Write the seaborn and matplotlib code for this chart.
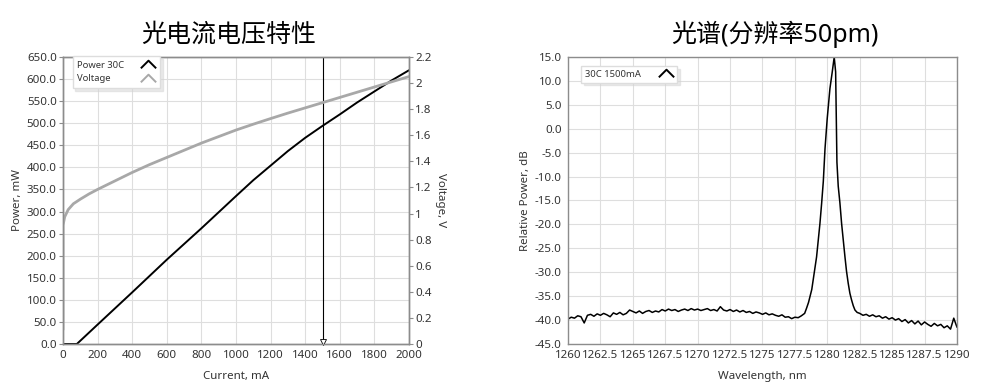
import numpy as np
import pandas as pd
import matplotlib
matplotlib.use("Agg")
import matplotlib.pyplot as plt
from matplotlib.lines import Line2D
from matplotlib.path import Path
from matplotlib.ticker import FormatStrFormatter
import seaborn as sns

# ---- LIV data ----
current_p = [0, 80, 200, 400, 600, 800, 1000, 1100, 1200, 1300, 1400, 1500, 1600, 1700,
             1800, 1900, 2000]
power_mw = [0, 0, 44, 117, 191, 262, 335, 371, 404, 437, 467, 494, 520, 547, 572, 597, 620]

current_v = [0, 0, 10, 30, 60, 100, 150, 200, 300, 400, 500, 600, 700, 800, 900, 1000,
             1100, 1200, 1300, 1400, 1500, 1600, 1700, 1800, 1900, 2000]
voltage_v = [0.11, 0.91, 0.975, 1.03, 1.075, 1.11, 1.15, 1.185, 1.25, 1.315, 1.375, 1.43,
             1.485, 1.54, 1.59, 1.64, 1.685, 1.728, 1.77, 1.81, 1.85, 1.89, 1.93, 1.97,
             2.01, 2.05]

cursor_current = 1500

# ---- spectrum data ----
wl_left = np.arange(1260.0, 1278.01, 0.25)
db_left = [-39.8, -39.4, -39.6, -39.1, -39.3, -40.6, -39.0, -38.8, -39.2, -38.7,
           -39.0, -38.6, -38.9, -39.3, -38.5, -38.8, -38.4, -38.9, -38.6, -37.9,
           -38.2, -38.5, -38.1, -38.6, -38.2, -38.0, -38.4, -38.1, -38.3, -37.8,
           -38.1, -37.7, -38.0, -37.8, -38.2, -37.9, -37.7, -38.0, -37.6, -37.9,
           -37.7, -38.0, -37.8, -37.6, -38.0, -37.8, -38.1, -37.2, -37.9, -38.1,
           -37.8, -38.2, -37.9, -38.3, -38.0, -38.4, -38.2, -38.6, -38.3, -38.5,
           -38.8, -38.5, -38.9, -38.7, -39.0, -39.2, -38.9, -39.4, -39.3, -39.7,
           -39.4, -39.5, -39.1]

wl_peak = [1278.25, 1278.40, 1278.55, 1278.66, 1278.80, 1278.91, 1279.05, 1279.17,
           1279.30, 1279.43, 1279.56, 1279.69, 1279.82, 1279.99, 1280.20, 1280.38,
           1280.53, 1280.64, 1280.69, 1280.74, 1280.84, 1280.97, 1281.10, 1281.23,
           1281.36, 1281.48, 1281.61, 1281.74, 1281.87, 1282.00, 1282.13, 1282.30]
db_peak = [-38.6, -37.5, -36.3, -35.1, -33.6, -31.6, -29.2, -26.8,
           -23.3, -19.8, -15.6, -11.0, -4.2, 2.1, 8.4, 11.9,
           15.0, 11.9, 2.1, -7.0, -12.0, -15.5, -19.8, -23.4,
           -26.8, -29.8, -32.3, -34.4, -35.8, -37.0, -37.9, -38.4]

wl_right = np.arange(1282.5, 1290.01, 0.25)
db_right = [-38.6, -39.0, -38.8, -39.2, -38.9, -39.3, -39.1, -39.6, -39.3, -39.8,
            -39.5, -40.0, -39.7, -40.3, -39.9, -40.6, -40.1, -40.8, -40.2, -41.0,
            -40.4, -40.9, -41.3, -40.7, -41.2, -40.9, -41.6, -41.2, -41.9, -39.6,
            -41.5]

spec = pd.DataFrame({
    "wl": np.concatenate([wl_left, wl_peak, wl_right]),
    "db": np.concatenate([db_left, db_peak, db_right]),
})
liv_p = pd.DataFrame({"I": current_p, "P": power_mw})
liv_v = pd.DataFrame({"I": current_v, "V": voltage_v})

sns.set_style("white")
plt.rcParams["font.family"] = ["Noto Sans", "Noto Sans CJK SC", "DejaVu Sans"]

spine_c = "#8c8c8c"
grid_c = "#dedede"
txt_c = "#333333"
volt_c = "#a8a8a8"

fig = plt.figure(figsize=(9.84, 3.9), dpi=100)
ax1 = fig.add_axes([63 / 984, 46 / 390, 346 / 984, 287 / 390])
ax3 = fig.add_axes([568 / 984, 46 / 390, 389 / 984, 287 / 390])
ax2 = ax1.twinx()

chevron = Path([(-1, -0.5), (0, 0.5), (1, -0.5)], [Path.MOVETO, Path.LINETO, Path.LINETO])


def style(ax):
    for s in ax.spines.values():
        s.set_color(spine_c)
        s.set_linewidth(1)
    ax.tick_params(direction="out", length=3, width=0.8, color=spine_c,
                   labelcolor=txt_c, labelsize=8.3, pad=1.5)


def left_align(leg, row_px):
    # text on the left, icon pushed to a fixed right column
    for col in leg._legend_handle_box.get_children():
        col.align = "left"
        for row in col.get_children():
            row.mode = "expand"
            row.width = row_px
    for t in leg.get_texts():
        t.set_color(txt_c)


# ---- left chart ----
sns.lineplot(data=liv_v, x="I", y="V", ax=ax2, color=volt_c, lw=2, sort=False,
             estimator=None)
sns.lineplot(data=liv_p, x="I", y="P", ax=ax1, color="black", lw=1.4, estimator=None)
ax1.axvline(cursor_current, color="black", lw=0.8)
ax1.plot([cursor_current], [5], marker="v", ms=4, mfc="white", mec="black", mew=0.6,
         clip_on=False, zorder=5)

ax1.set_xlim(0, 2000)
ax1.set_ylim(0, 650)
ax2.set_ylim(0, 2.2)
ax1.set_xticks(np.arange(0, 2001, 200))
ax1.set_yticks(np.arange(0, 651, 50))
ax2.set_yticks(np.arange(0, 2.21, 0.2))
ax1.yaxis.set_major_formatter(FormatStrFormatter("%.1f"))
ax2.yaxis.set_major_formatter(FormatStrFormatter("%g"))
ax1.grid(True, color=grid_c, lw=0.8)
ax1.set_axisbelow(True)
for a in (ax1, ax2):
    style(a)
ax1.set_xlabel("Current, mA", fontsize=8.3, color=txt_c, labelpad=7)
ax1.set_ylabel("Power, mW", fontsize=8.3, color=txt_c, labelpad=3)
ax2.set_ylabel("Voltage, V", fontsize=8.3, color=txt_c, rotation=270, labelpad=10)
ax1.set_title("光电流电压特性", fontsize=18, x=0.48, pad=11, color="black")

h1 = [Line2D([], [], color="black", marker=chevron, ms=11, mfc="none", mew=1.4, ls="none"),
      Line2D([], [], color=volt_c, marker=chevron, ms=11, mfc="none", mew=1.4, ls="none")]
leg = ax2.legend(h1, ["Power 30C", "Voltage"], loc="upper left",
                 bbox_to_anchor=(0.014, 1.02), markerfirst=False, fontsize=6.8,
                 frameon=True, fancybox=False, framealpha=1, edgecolor="#dddddd",
                 shadow={"color": "#d5d5d5"}, handletextpad=1.2, borderpad=0.5,
                 labelspacing=0.5, handlelength=1.5)
left_align(leg, 78)

# ---- right chart ----
sns.lineplot(data=spec, x="wl", y="db", ax=ax3, color="black", lw=1.1, estimator=None)
ax3.set_xlim(1260, 1290)
ax3.set_ylim(-45, 15)
ax3.set_xticks(np.arange(1260, 1290.1, 2.5))
ax3.set_yticks(np.arange(-45, 15.1, 5))
ax3.xaxis.set_major_formatter(FormatStrFormatter("%g"))
ax3.yaxis.set_major_formatter(FormatStrFormatter("%.1f"))
ax3.grid(True, color=grid_c, lw=0.8)
ax3.set_axisbelow(True)
style(ax3)
ax3.set_xlabel("Wavelength, nm", fontsize=8.3, color=txt_c, labelpad=7)
ax3.set_ylabel("Relative Power, dB", fontsize=8.3, color=txt_c, labelpad=3)
ax3.set_title("光谱(分辨率50pm)", fontsize=18, x=0.532, pad=11, color="black")

h3 = [Line2D([], [], color="black", marker=chevron, ms=11, mfc="none", mew=1.4, ls="none")]
leg3 = ax3.legend(h3, ["30C 1500mA"], loc="upper left", bbox_to_anchor=(0.022, 0.985),
                  markerfirst=False, fontsize=6.8, frameon=True, fancybox=False,
                  framealpha=1, edgecolor="#dddddd", shadow={"color": "#d5d5d5"},
                  handletextpad=1.2, borderpad=0.4, handlelength=1.5)
left_align(leg3, 88)

fig.savefig("out.png", dpi=100)
